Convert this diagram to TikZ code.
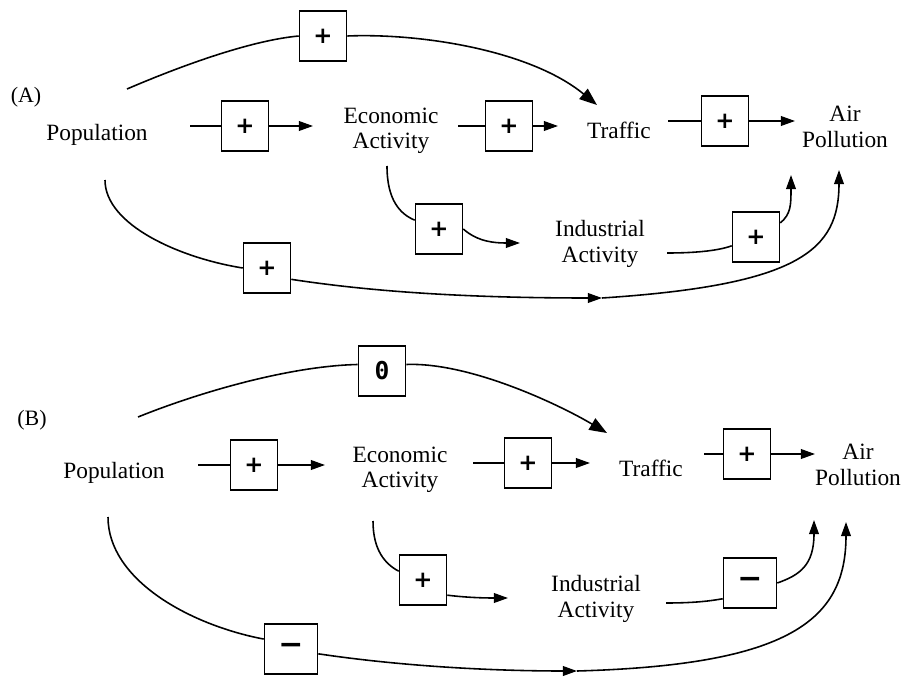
\documentclass[tikz,border=0pt]{standalone}
\usepackage{fontspec}
\setmainfont{Liberation Serif}
\newfontfamily\symfont{DejaVu Sans}
\newfontfamily\zerofont{DejaVu Sans Mono}
\usetikzlibrary{arrows.meta}
\begin{document}
\begin{tikzpicture}[x=0.02cm,y=-0.02cm,
  txt/.style={align=center,font=\fontsize{13.3}{14.5}\selectfont,inner sep=1pt},
  lbl/.style={font=\fontsize{12.5}{14}\selectfont,inner sep=1pt},
  sgn/.style={draw,line width=0.9pt,minimum width=0.94cm,minimum height=1cm,inner sep=0pt,font=\symfont\bfseries\fontsize{13}{13}\selectfont},
  neg/.style={sgn,minimum width=1.06cm,font=\symfont\bfseries\fontsize{17}{17}\selectfont},
  con/.style={line width=0.9pt},
  arr/.style={con,-{Triangle[length=8pt,width=5.5pt]}},
  bigarr/.style={con,-{Triangle[length=10pt,width=7.5pt]}}]
\useasboundingbox (0,0) rectangle (903,679);

% ---------------- Panel A ----------------
\node[lbl] (labA) at (26,97) {(A)};
\node[txt] (popA) at (97,135) {Population};
\node[txt] (econA) at (391,131) {Economic\\Activity};
\node[txt] (trafA) at (619,130) {Traffic};
\node[txt] (airA) at (845,127) {Air\\Pollution};
\node[txt] (indA) at (600,244) {Industrial\\Activity};

\node[sgn] (b0A) at (323,36) {+};
\node[sgn] (b1A) at (245,126) {+};
\node[sgn] (b2A) at (509,126) {+};
\node[sgn] (b3A) at (725,121) {+};
\node[sgn] (b4A) at (439,229) {+};
\node[sgn] (b5A) at (756,237) {+};
\node[sgn] (b6A) at (267,268) {+};

\coordinate (pA1) at (190,126);
\coordinate (eA1) at (313,126);
\coordinate (tA0) at (127,89);
\coordinate (tA1) at (597,105);
\coordinate (eA2) at (458,126);
\coordinate (tA2) at (558,126);
\coordinate (tA3) at (668,121);
\coordinate (aA0) at (795,121);
\coordinate (eA3) at (387,166);
\coordinate (iA0) at (520,243);
\coordinate (iA1) at (667,253);
\coordinate (aA1) at (791,175);
\coordinate (pA2) at (105,180);
\coordinate (mA) at (602,298);
\coordinate (aA2) at (839,170);

\draw[con] (pA1) -- (b1A);
\draw[arr] (b1A) -- (eA1);
\draw[con] (tA0) .. controls (190,62) and (255,40) .. (b0A.west);
\draw[bigarr] (b0A.east) .. controls (420,33) and (530,50) .. (tA1);
\draw[con] (eA2) -- (b2A);
\draw[arr] (b2A) -- (tA2);
\draw[con] (tA3) -- (b3A);
\draw[arr] (b3A) -- (aA0);
\draw[con] (eA3) .. controls (387,200) and (400,214) .. (b4A.160);
\draw[arr] (b4A.east) .. controls (478,242) and (495,243) .. (iA0);
\draw[con] (iA1) .. controls (700,253) and (720,250) .. (b5A.200);
\draw[arr] (b5A.30) .. controls (791,214) and (791,205) .. (aA1);
\draw[con] (pA2) .. controls (105,225) and (180,258) .. (b6A.west);
\draw[arr] (b6A.-25) .. controls (380,293) and (480,298) .. (mA);
\draw[arr] (mA) .. controls (800,285) and (839,250) .. (aA2);

% ---------------- Panel B ----------------
\node[lbl] (labB) at (32,420) {(B)};
\node[txt] (popB) at (114,473) {Population};
\node[txt] (econB) at (400,470) {Economic\\Activity};
\node[txt] (trafB) at (651,468) {Traffic};
\node[txt] (airB) at (858,465) {Air\\Pollution};
\node[txt] (indB) at (596,599) {Industrial\\Activity};

\node[sgn,font=\zerofont\bfseries\fontsize{14}{14}\selectfont] (b0B) at (382,371) {0};
\node[sgn] (b1B) at (254,465) {+};
\node[sgn] (b2B) at (528,463) {+};
\node[sgn] (b3B) at (747,454) {+};
\node[sgn] (b4B) at (423,580) {+};
\node[neg] (b5B) at (750,583) {−};
\node[neg] (b6B) at (291,649) {−};

\coordinate (pB1) at (198,465);
\coordinate (eB1) at (325,465);
\coordinate (tB0) at (138,417);
\coordinate (tB1) at (607,433);
\coordinate (eB2) at (473,463);
\coordinate (tB2) at (590,463);
\coordinate (tB3) at (704,454);
\coordinate (aB0) at (815,454);
\coordinate (eB3) at (373,521);
\coordinate (iB0) at (508,598);
\coordinate (iB1) at (666,603);
\coordinate (aB1) at (814,520);
\coordinate (pB2) at (108,517);
\coordinate (mB) at (577,671);
\coordinate (aB2) at (846,522);

\draw[con] (pB1) -- (b1B);
\draw[arr] (b1B) -- (eB1);
\draw[con] (tB0) .. controls (200,392) and (290,366) .. (b0B.165);
\draw[bigarr] (b0B.15) .. controls (470,362) and (560,405) .. (tB1);
\draw[con] (eB2) -- (b2B);
\draw[arr] (b2B) -- (tB2);
\draw[con] (tB3) -- (b3B);
\draw[arr] (b3B) -- (aB0);
\draw[con] (eB3) .. controls (373,550) and (385,564) .. (b4B.160);
\draw[arr] (b4B.-32) .. controls (470,598) and (490,598) .. (iB0);
\draw[con] (iB1) .. controls (700,603) and (715,600) .. (b5B.210);
\draw[arr] (b5B.east) .. controls (800,575) and (814,565) .. (aB1);
\draw[con] (pB2) .. controls (108,580) and (190,625) .. (b6B.160);
\draw[arr] (b6B.-10) .. controls (400,666) and (490,671) .. (mB);
\draw[arr] (mB) .. controls (790,665) and (846,620) .. (aB2);
\end{tikzpicture}
\end{document}
